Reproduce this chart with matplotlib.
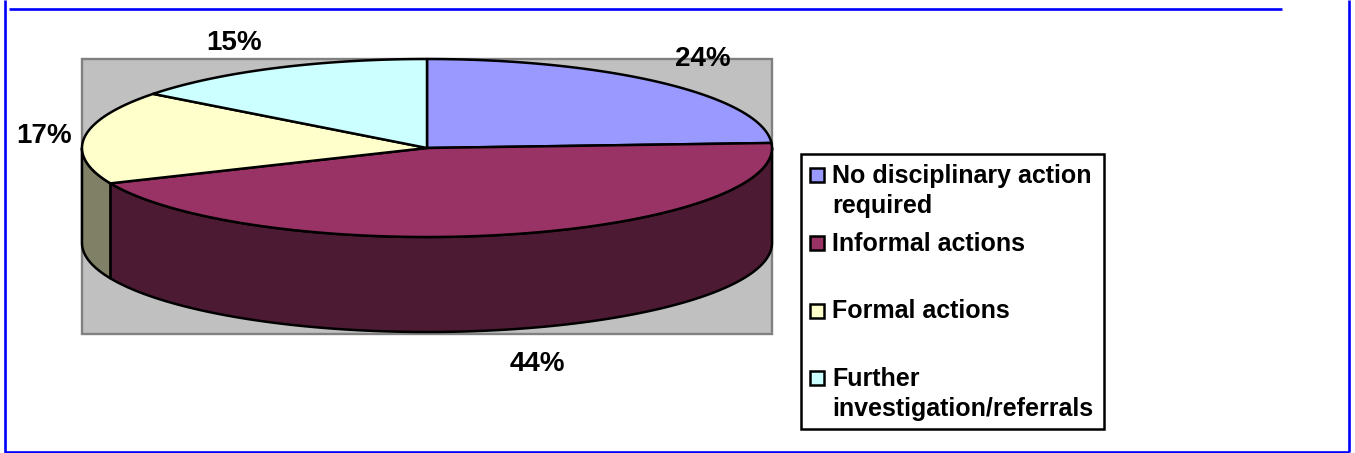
import numpy as np
import matplotlib
matplotlib.use('Agg')
import matplotlib.pyplot as plt
from matplotlib.patches import Rectangle, Polygon

categories = ['No disciplinary action\nrequired', 'Informal actions', 'Formal actions', 'Further\ninvestigation/referrals']
values = [24.1, 44.4, 16.9, 14.6]
colors = ['#9999FF', '#993366', '#FFFFCC', '#CCFFFF']
side_colors = ['#4C4C80', '#4C1A33', '#808066', '#668080']

# pie geometry in pixels
cx, cy = 427, 148
rx, ry = 345, 89
depth = 95
label_pos = [(703, 66.5), (537, 371), (44, 143), (234, 50)]
legend_rows = [(174.5, 183), (242.5, 251), (310.5, 318), (378, 386.5)]

plt.rcParams['font.family'] = ['Liberation Sans', 'DejaVu Sans']

fig = plt.figure(figsize=(13.55, 4.53), dpi=100)
ax = fig.add_axes([0, 0, 1, 1])
ax.set_xlim(0, 1355)
ax.set_ylim(453, 0)
ax.axis('off')


def rim(a, b):
    # angles in degrees, clockwise from the top of the pie
    t = np.radians(np.linspace(a, b, 200))
    return cx + rx * np.sin(t), cy - ry * np.cos(t)


# page frame
blue = '#0000FF'
ax.plot([4.5, 4.5], [0, 452], color=blue, lw=1.9, solid_capstyle='butt')
ax.plot([1349, 1349], [0, 452], color=blue, lw=1.9, solid_capstyle='butt')
ax.plot([4, 1349], [452, 452], color=blue, lw=1.9, solid_capstyle='butt')
ax.plot([9, 1282], [9, 9], color=blue, lw=1.9, solid_capstyle='butt')

# plot area
ax.add_patch(Rectangle((82, 59), 690, 275, fc='#C0C0C0', ec='#808080', lw=1.7))

edges = np.cumsum([0] + values) * 3.6

# side wall, only the front half shows
for i in range(len(values)):
    a, b = max(edges[i], 90), min(edges[i + 1], 270)
    if a >= b:
        continue
    x, y = rim(a, b)
    pts = np.r_[np.c_[x, y], np.c_[x[::-1], y[::-1] + depth]]
    ax.add_patch(Polygon(pts, closed=True, fc=side_colors[i], ec='black', lw=1.8, joinstyle='round'))

# top face
for i in range(len(values)):
    x, y = rim(edges[i], edges[i + 1])
    pts = np.r_[[[cx, cy]], np.c_[x, y]]
    ax.add_patch(Polygon(pts, closed=True, fc=colors[i], ec='black', lw=1.8, joinstyle='round'))

for v, (px, py) in zip(values, label_pos):
    ax.text(px, py, f'{v:.0f}%', fontsize=20, fontweight='bold', ha='center', va='baseline')

# legend box
ax.add_patch(Rectangle((801, 154), 303, 275, fc='white', ec='black', lw=1.8))
for name, c, (sy, ty) in zip(categories, colors, legend_rows):
    ax.add_patch(Rectangle((809.5, sy - 7), 14, 14, fc=c, ec='black', lw=1.8))
    for k, line in enumerate(name.split('\n')):
        ax.text(832, ty + k * 29.5, line, fontsize=18, fontweight='bold', ha='left', va='baseline')

fig.savefig('out.png', dpi=100)
